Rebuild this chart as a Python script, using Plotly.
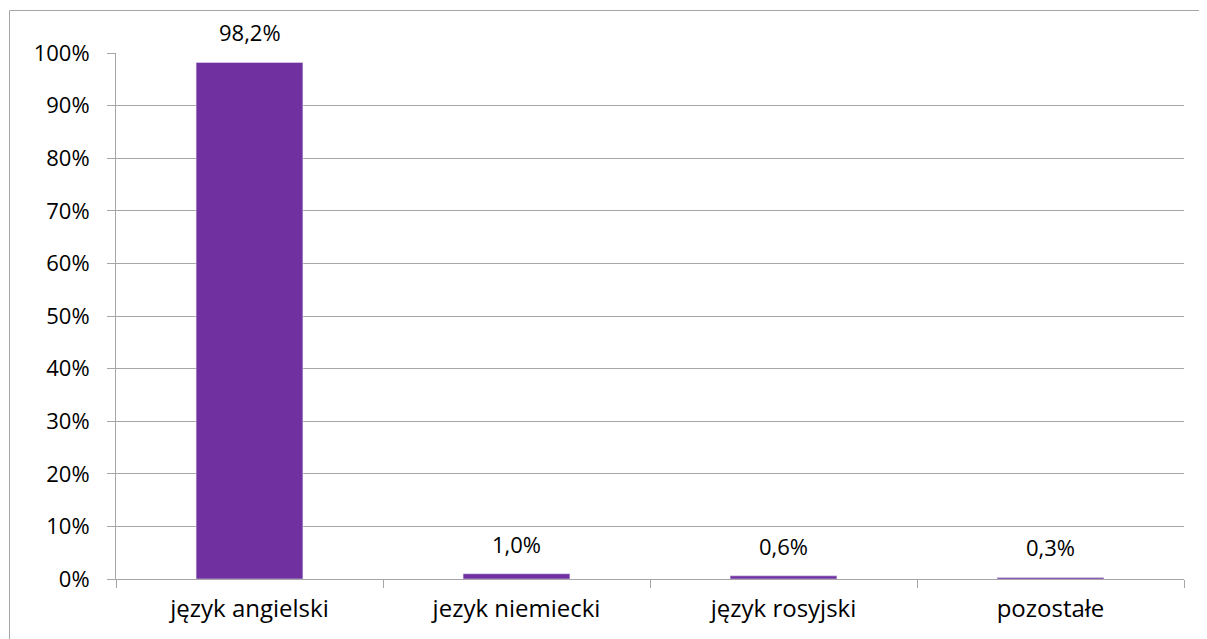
import plotly.graph_objects as go

categories = ["język angielski", "jezyk niemiecki", "język rosyjski", "pozostałe"]
values = [98.2, 1.0, 0.6, 0.3]
labels = [f"{v:.1f}%".replace(".", ",") for v in values]

W, H = 1207, 639
OFF = 8  # page body margin
L, R, T, B = 116 - OFF, 1184 - OFF, 53 - OFF, 579 - OFF
FONT = "Open Sans, Liberation Sans, Arial, sans-serif"

fig = go.Figure()
fig.add_trace(go.Bar(x=categories, y=values, marker_color="#7030A0", width=0.4,
                     hoverinfo="skip"))

for c, v, t in zip(categories, values, labels):
    fig.add_annotation(x=c, y=v, text=t, showarrow=False, yanchor="bottom",
                       yshift=13, font=dict(size=22, color="#000000", family=FONT))

pw, ph = R - L, B - T
fig.add_shape(type="rect", xref="paper", yref="paper",
              x0=(9.5 - OFF - L) / pw, x1=(1206 - OFF - L) / pw,
              y0=(B - 700) / ph, y1=(B - (10.5 - OFF)) / ph,
              line=dict(color="#A6A6A6", width=1), fillcolor="rgba(0,0,0,0)", layer="below")

fig.update_layout(
    width=W, height=H,
    margin=dict(l=L, r=W - R, t=T, b=H - B, pad=0),
    plot_bgcolor="white", paper_bgcolor="white",
    font=dict(family=FONT, size=22, color="#000000"),
    showlegend=False,
    xaxis=dict(type="category", tickson="boundaries", ticks="outside", ticklen=8,
               tickcolor="#A6A6A6", showline=True, linecolor="#A6A6A6", linewidth=1,
               showgrid=False, ticklabelstandoff=8,
               tickfont=dict(size=24, family=FONT)),
    yaxis=dict(range=[0, 100], dtick=10, ticksuffix="%", ticks="outside", ticklen=8,
               tickcolor="#A6A6A6", showline=True, linecolor="#A6A6A6", linewidth=1,
               showgrid=True, gridcolor="#A6A6A6", gridwidth=1, zeroline=False,
               ticklabelstandoff=13,
               tickfont=dict(size=22, family=FONT)),
)

fig.write_html("out.html")
